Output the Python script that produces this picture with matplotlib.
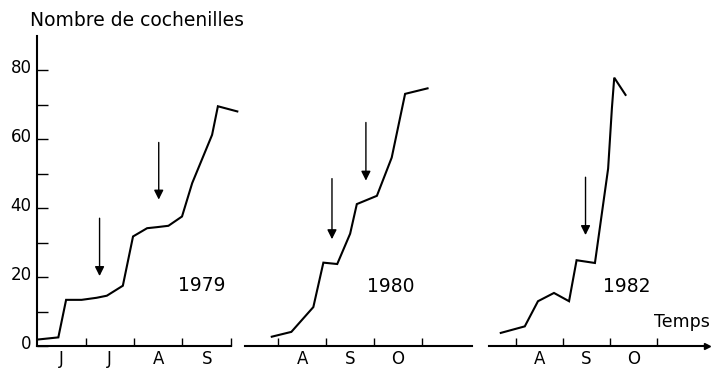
import matplotlib.pyplot as plt
from matplotlib.transforms import ScaledTranslation

plt.rcParams['font.family'] = ['DejaVu Sans']

# time in months from the first tick of each panel, counts of cochineals
t_1979 = [0.03, 0.44, 0.60, 0.92, 1.23, 1.44, 1.77, 1.98, 2.27, 2.47, 2.71, 2.99, 3.20, 3.61, 3.73, 4.13]
n_1979 = [1.9, 2.5, 13.4, 13.4, 14.0, 14.6, 17.5, 31.8, 34.2, 34.5, 34.9, 37.6, 47.3, 61.3, 69.6, 68.1]

t_1980 = [-0.14, 0.27, 0.73, 0.94, 1.23, 1.50, 1.64, 2.06, 2.37, 2.65, 3.12]
n_1980 = [2.7, 4.1, 11.3, 24.2, 23.8, 32.6, 41.2, 43.6, 54.7, 73.2, 74.8]

t_1982 = [-0.32, 0.19, 0.47, 0.81, 1.13, 1.29, 1.68, 1.96, 2.04, 2.09, 2.33]
n_1982 = [3.8, 5.7, 13.0, 15.4, 13.0, 24.9, 24.1, 51.5, 69.0, 77.9, 72.9]

# treatments (arrows): time, top, tip
arrows_1979 = [(1.29, 37.9, 19.5), (2.51, 59.9, 41.7)]
arrows_1980 = [(1.12, 49.4, 30.2), (1.83, 65.7, 47.2)]
arrows_1982 = [(1.48, 49.8, 31.4)]

months_1979 = ['J', 'J', 'A', 'S']
months_1980 = ['A', 'S', 'O']
months_1982 = ['A', 'S', 'O']

W, H = 713, 372
fig = plt.figure(figsize=(W / 100, H / 100), dpi=100)

def px_axes(x0, x1, y_top=36, y_bot=346):
    return fig.add_axes([x0 / W, 1 - y_bot / H, (x1 - x0) / W, (y_bot - y_top) / H])

panels = [
    (px_axes(37, 231), (0, 4), [1, 2, 3, 4], months_1979, t_1979, n_1979, arrows_1979, '1979', (3.4, 17.5)),
    (px_axes(245, 472), (-0.70, 4.05), [0, 1, 2, 3], months_1980, t_1980, n_1980, arrows_1980, '1980', (2.34, 17.2)),
    (px_axes(489, 707), (-0.57, 4.06), [0, 1, 2, 3], months_1982, t_1982, n_1982, arrows_1982, '1982', (2.36, 17.3)),
]

for i, (ax, xlim, ticks, months, t, n, arrows, year, ypos) in enumerate(panels):
    ax.set_xlim(*xlim)
    ax.set_ylim(0, 90)
    ax.plot(t, n, color='black', lw=1.5, clip_on=False, solid_joinstyle='miter')
    for x, top, tip in arrows:
        ax.annotate('', xy=(x, tip), xytext=(x, top),
                    arrowprops=dict(arrowstyle='-|>', color='black', lw=1, mutation_scale=14))
    ax.text(ypos[0], ypos[1], year, fontsize=13.5, ha='center', va='center')

    for s in ['top', 'right']:
        ax.spines[s].set_visible(False)
    ax.spines['bottom'].set_linewidth(1.5)
    ax.set_xticks(ticks)
    ax.set_xticklabels([])
    ax.set_xticks([ticks[0] - (1 if i == 0 else 0) + k + 0.5 for k in range(len(months))], minor=True)
    ax.set_xticklabels(months, minor=True, fontsize=12)
    ax.tick_params(axis='x', which='major', direction='in', length=6, width=1)
    ax.tick_params(axis='x', which='minor', length=0, pad=3)

    if i == 0:
        ax.spines['left'].set_linewidth(1.5)
        ax.set_yticks([0, 20, 40, 60, 80])
        ax.set_yticks([10, 30, 50, 70], minor=True)
        ax.tick_params(axis='y', which='both', direction='in', length=8, width=1, labelsize=12, pad=4)
        shift = ScaledTranslation(0, 3 / 72, fig.dpi_scale_trans)
        for lab in ax.get_yticklabels():
            lab.set_transform(lab.get_transform() + shift)
    else:
        ax.spines['left'].set_visible(False)
        ax.set_yticks([])
        ax.tick_params(axis='y', which='both', left=False)

# arrowhead at the end of the time axis
panels[2][0].plot(1, 0, '>', color='black', markersize=4, transform=panels[2][0].transAxes, clip_on=False)

fig.text(30 / W, 1 - 20 / H, 'Nombre de cochenilles', fontsize=13.5, ha='left', va='center')
fig.text(710 / W, 1 - 322 / H, 'Temps', fontsize=12.5, ha='right', va='center')

fig.savefig('out.png', dpi=100)
